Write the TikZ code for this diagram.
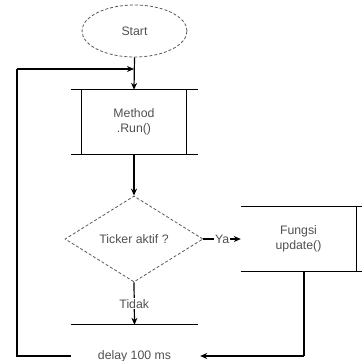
\documentclass[tikz,border=0pt]{standalone}
\usepackage{fontspec}
\setmainfont{Liberation Sans}
\usetikzlibrary{arrows.meta,shapes.geometric}
\definecolor{txt}{RGB}{80,80,80}
\definecolor{dsh}{RGB}{90,90,90}
\begin{document}
\begin{tikzpicture}[x=1pt,y=-1pt,
  every node/.style={font=\fontsize{12.3}{15}\selectfont,text=txt,align=center},
  ln/.style={line width=1.2pt,draw=black},
  arr/.style={ln,-{Stealth[length=7pt,width=6pt]}},
  dashbox/.style={draw=dsh,line width=0.8pt,dash pattern=on 3pt off 2pt},
  lbl/.style={fill=white,inner sep=1pt}]
\useasboundingbox (0,0) rectangle (362,360);
\node[ellipse,dashbox,minimum width=105,minimum height=52,inner sep=0] (start) at (134.5,31) {Start};
\node[minimum width=104,minimum height=64,inner sep=0] (run) at (134,122) {Method\\.Run()};
\node[diamond,dashbox,minimum width=138,minimum height=86,aspect=1.6,inner sep=0] (tick) at (134,239) {Ticker aktif ?};
\node[minimum width=115,minimum height=64,inner sep=0] (fung) at (298.5,239) {Fungsi\\update()};
\node[minimum width=127,minimum height=62,inner sep=0] (delay) at (134.5,356) {delay 100 ms};
\coordinate (merge) at (134,69);
\coordinate (lc) at (17,356);
\coordinate (lt) at (17,69);
\coordinate (fb) at (304,271);
\coordinate (fc) at (304,356);
% run box
\draw[ln] ([xshift=-11pt]run.north west) -- ([xshift=12pt]run.north east);
\draw[ln] ([xshift=-11pt]run.south west) -- ([xshift=12pt]run.south east);
\draw[ln] (run.north west) -- (run.south west);
\draw[ln] (run.north east) -- (run.south east);
% fungsi box
\draw[ln] (fung.north west) -- ([xshift=8pt]fung.north east);
\draw[ln] (fung.south west) -- ([xshift=8pt]fung.south east);
\draw[ln] (fung.north east) -- (fung.south east);
% delay box top
\draw[ln] (delay.north west) -- (delay.north east);
% connectors
\draw[arr] (start.south) -- (run.north);
\draw[arr] (run.south) -- (tick.north);
\draw[arr] (tick.east) -- node[lbl]{Ya} (fung.west);
\draw[arr] (tick.south) -- node[lbl]{Tidak} (delay.north);
\draw[ln] (delay.west) -- (lc) -- (lt);
\draw[arr] (lt) -- (merge);
\draw[ln] (fb) -- (fc);
\draw[arr] (fc) -- ([xshift=2pt]delay.east);
\end{tikzpicture}
\end{document}
